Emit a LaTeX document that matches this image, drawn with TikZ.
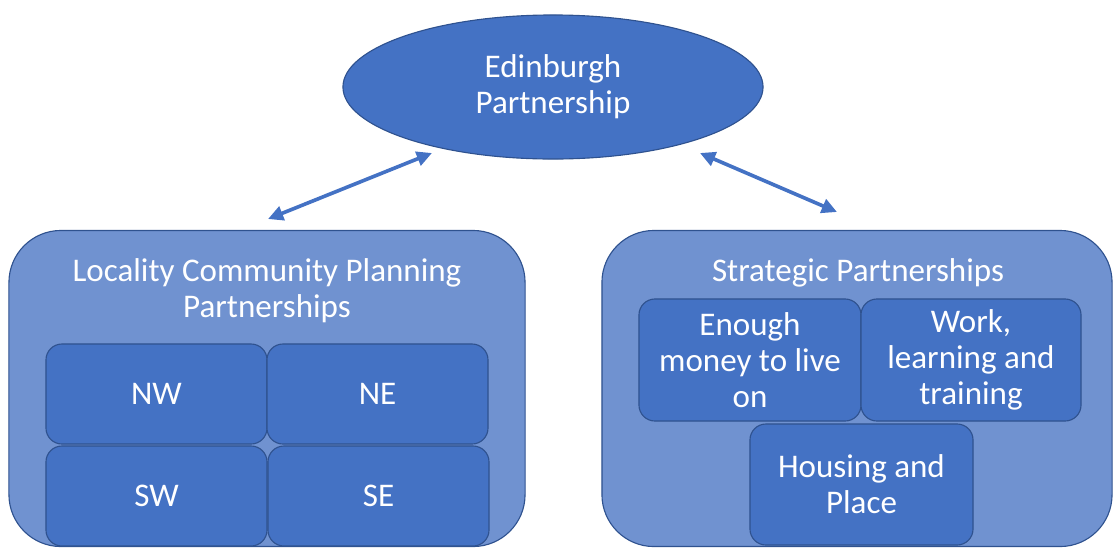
\documentclass[tikz,border=0pt]{standalone}
\usepackage{fontspec}
\setmainfont{Carlito}
\usetikzlibrary{arrows.meta,shapes.geometric}

\definecolor{ppblue}{HTML}{4472C4}
\definecolor{ppedge}{HTML}{2F528F}
\definecolor{pplight}{HTML}{7092D0}

\tikzset{
  txt/.style={text=white, font=\fontsize{23.5}{25.6}\selectfont, align=center},
  outerbox/.style={rectangle, rounded corners=1.3cm, fill=pplight, draw=ppedge, line width=0.8pt},
  innerbox/.style={txt, rectangle, rounded corners=0.4cm, fill=ppblue, draw=ppedge, line width=0.8pt},
  link/.style={ppblue, line width=2.6pt, {Triangle[length=0.38cm,width=0.36cm]}-{Triangle[length=0.38cm,width=0.36cm]}}
}

\begin{document}
\begin{tikzpicture}[x=0.025cm,y=-0.025cm]
    \useasboundingbox (0,0) rectangle (1113,548);

    % Partnership
    \node[txt, ellipse, fill=ppblue, draw=ppedge, line width=0.8pt,
          minimum width=10.5cm, minimum height=3.6cm] (edin) at (553,87)
          {Edinburgh\\Partnership};

    % Locality partnerships
    \node[outerbox, minimum width=12.9cm, minimum height=7.9cm] (lcpp) at (267,388.5) {};
    \node[txt] (lcpptitle) at (267,291) {Locality Community Planning\\Partnerships};
    \node[innerbox, minimum width=5.525cm, minimum height=2.5cm] (nw) at (156.5,394) {NW};
    \node[innerbox, minimum width=5.525cm, minimum height=2.5cm] (ne) at (377.5,394) {NE};
    \node[innerbox, minimum width=5.525cm, minimum height=2.5cm] (sw) at (156.5,496) {SW};
    \node[innerbox, minimum width=5.525cm, minimum height=2.5cm] (se) at (378.5,496) {SE};

    % Strategic partnerships
    \node[outerbox, minimum width=12.75cm, minimum height=7.9cm] (strat) at (857,388.5) {};
    \node[txt] (strattitle) at (858,273) {Strategic Partnerships};
    \node[innerbox, minimum width=5.55cm, minimum height=3.05cm] (money) at (750,360) {Enough\\money to live\\on};
    \node[innerbox, minimum width=5.5cm, minimum height=3.05cm] (work) at (971,360) {Work,\\learning and\\training};
    \node[innerbox, minimum width=5.575cm, minimum height=3.025cm] (housing) at (861.5,484.5) {Housing and\\Place};

    % Arrows
    \coordinate (lend) at (268,219);
    \coordinate (ltop) at (432,153);
    \coordinate (rtop) at (700,153);
    \coordinate (rend) at (837,212);
    \draw[link] (lend) -- (ltop);
    \draw[link] (rtop) -- (rend);
\end{tikzpicture}
\end{document}
